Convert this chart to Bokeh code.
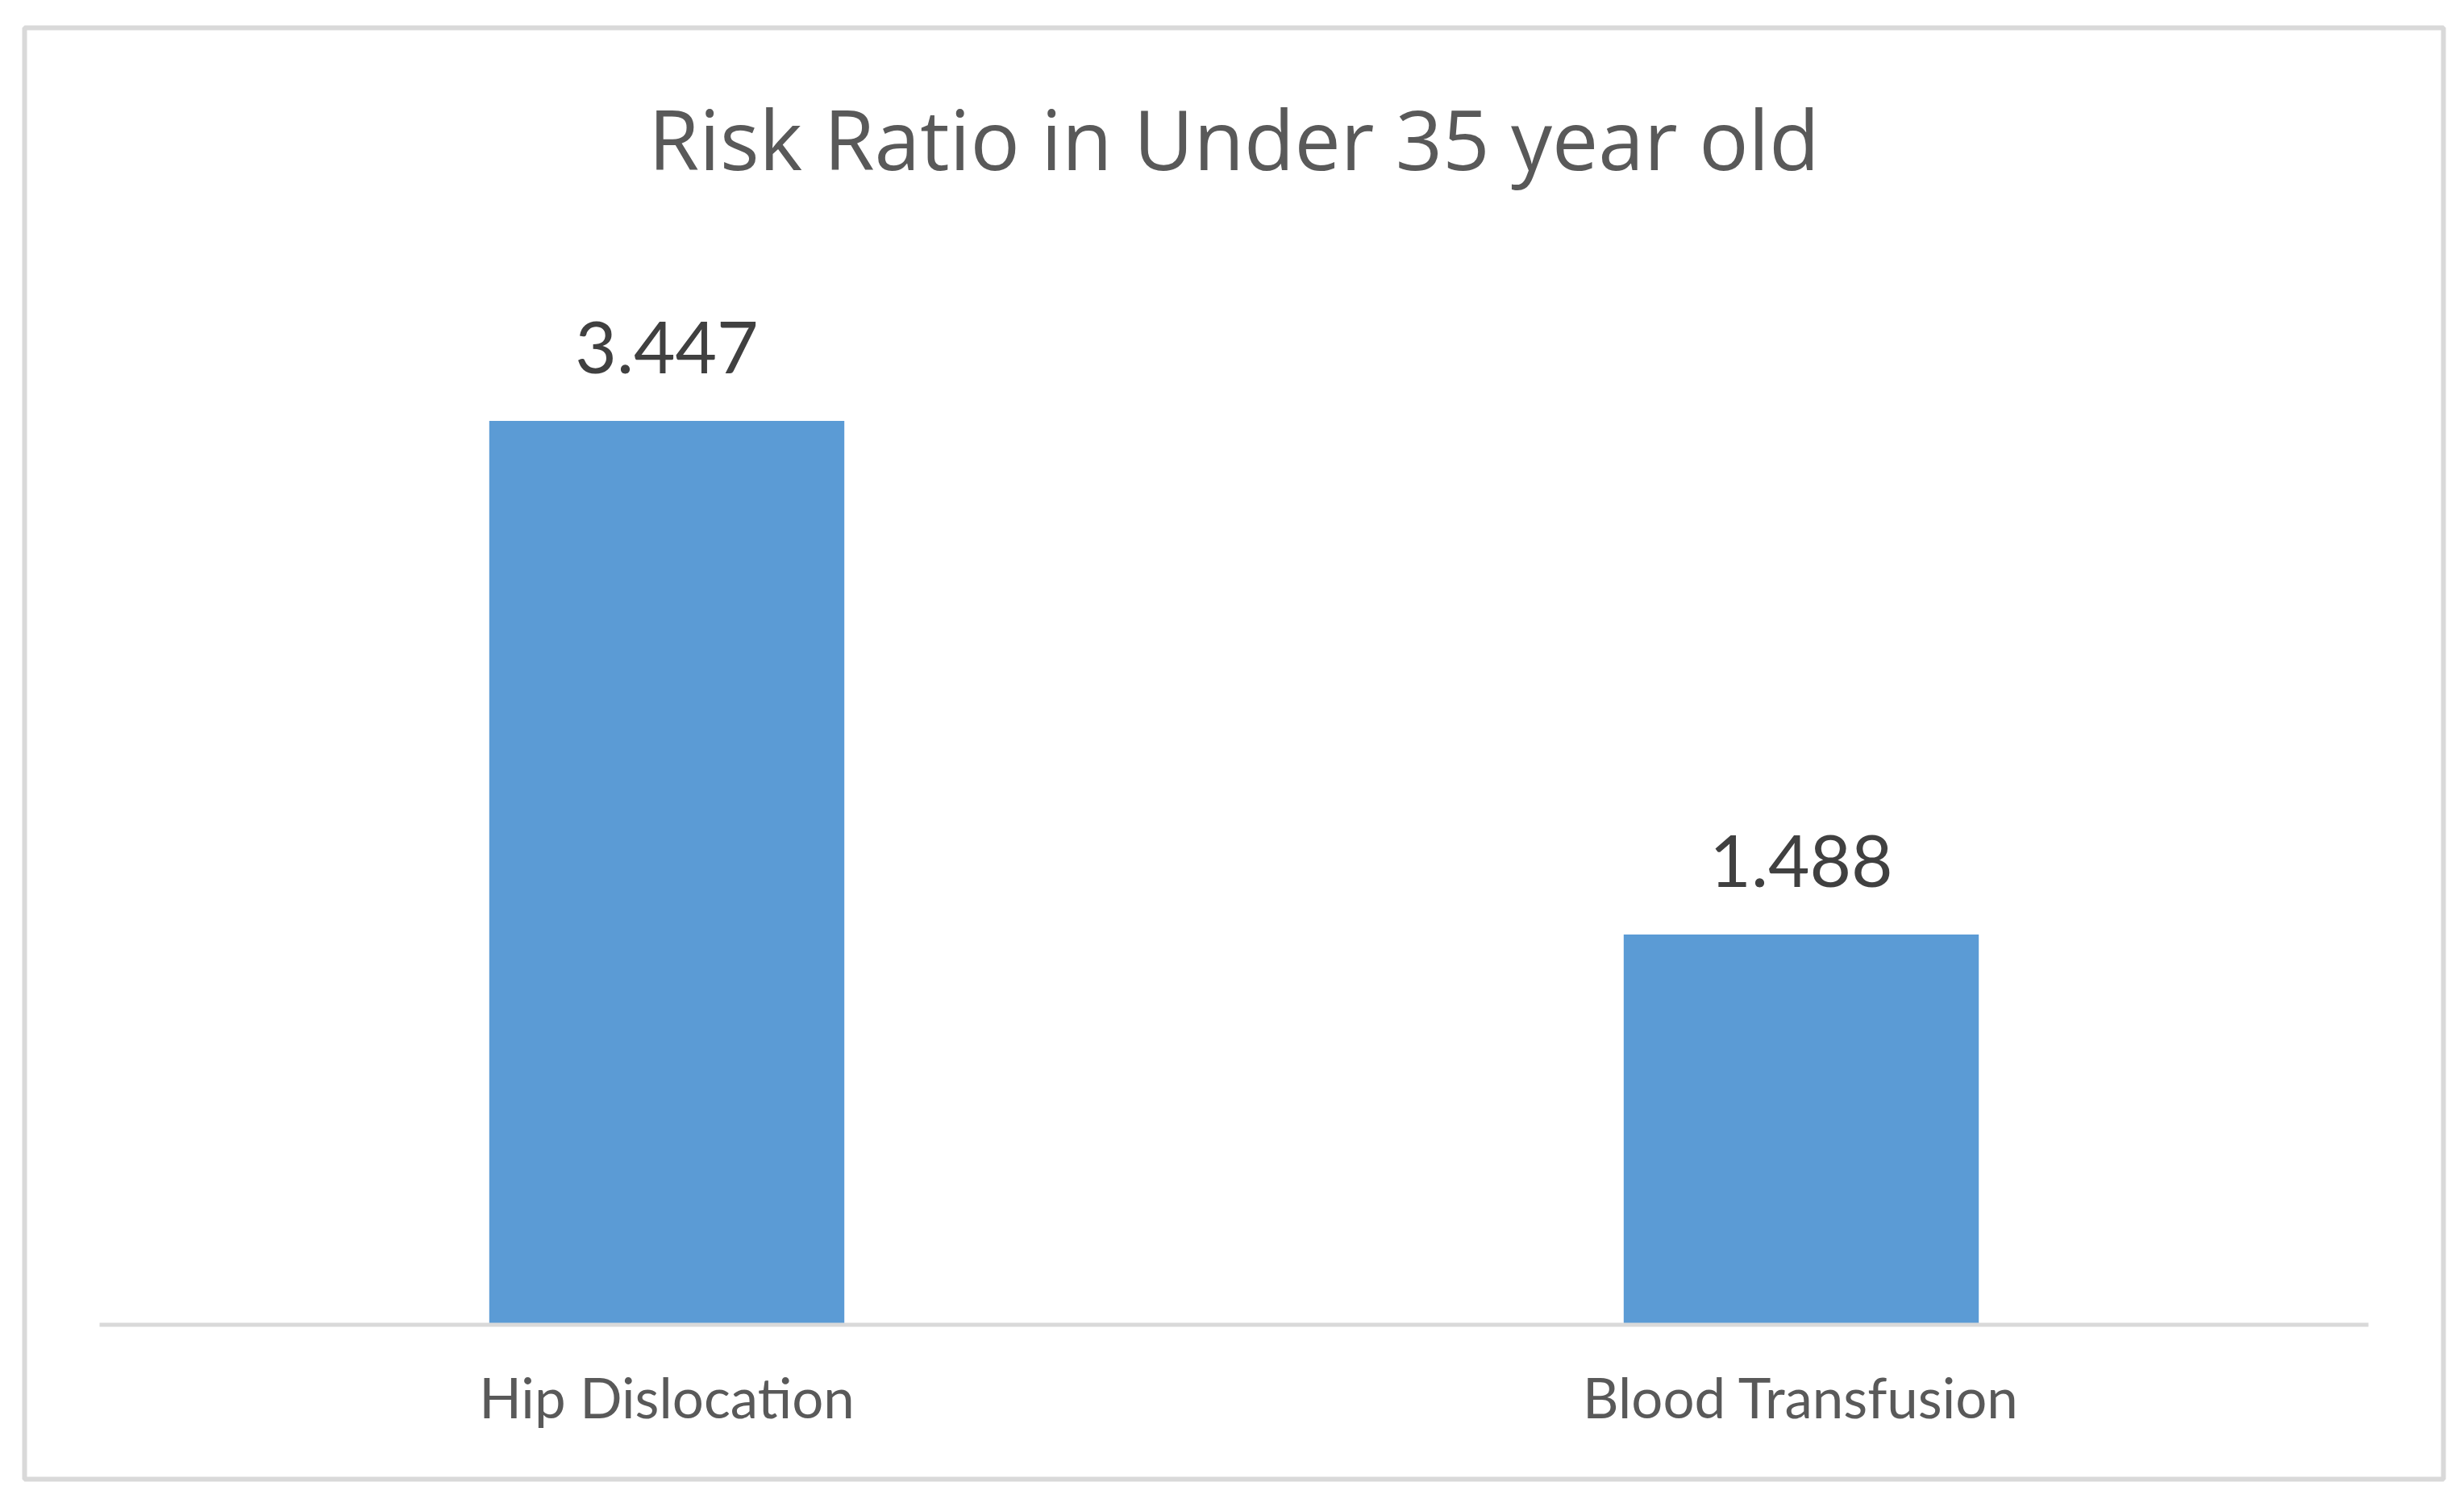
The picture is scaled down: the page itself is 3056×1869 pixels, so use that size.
from bokeh.plotting import figure
from bokeh.models import FactorRange, Range1d, Label
from bokeh.core.properties import value
from bokeh.embed import file_html
from bokeh.resources import INLINE

# ---- data ----
title_text = "Risk Ratio in Under 35 year old"
categories = ["Hip Dislocation", "Blood Transfusion"]
risk_ratio = [3.447, 1.488]
value_labels = ["{:.3f}".format(v) for v in risk_ratio]

# ---- styling / layout ----
FONT = "Lato"
TITLE_FONT = "Open Sans"
BAR_COLOR = "#5B9BD5"
GRID_GRAY = "#D9D9D9"

FRAME_W, FRAME_H = 3000, 1800
ML, MT, MR, MB = 30, 34, 14, 14

p = figure(
    width=FRAME_W + ML + MR,
    height=FRAME_H + MT + MB,
    x_range=FactorRange(*categories, range_padding=0.0661),
    y_range=Range1d(-0.589, 4.946),
    output_backend="svg",
    toolbar_location=None,
    min_border_left=ML, min_border_right=MR,
    min_border_top=MT, min_border_bottom=MB,
)
p.xaxis.visible = False
p.yaxis.visible = False
p.xgrid.visible = False
p.ygrid.visible = False
p.background_fill_color = "white"
p.border_fill_color = "white"
p.outline_line_color = GRID_GRAY
p.outline_line_width = 6

# bars
p.vbar(x=categories, top=risk_ratio, width=0.313, bottom=0,
       fill_color=BAR_COLOR, line_color=None)

# category axis line
p.segment(x0=[(categories[0], -0.5)], y0=[0], x1=[(categories[-1], 0.5)], y1=[0],
          line_color=GRID_GRAY, line_width=5)

# value labels
p.text(x=categories, y=risk_ratio, text=value_labels, y_offset=-91,
       text_align="center", text_baseline="alphabetic",
       text_font=value(FONT), text_font_size="89px", text_color="#404040")

# category labels
p.text(x=categories, y=[0] * len(categories), text=categories, y_offset=90,
       text_align="center", text_baseline="alphabetic",
       text_font=value(FONT), text_font_size="69px", text_color="#595959")

# title
p.add_layout(Label(x=FRAME_W / 2, y=1663, x_units="screen", y_units="screen",
                   text=title_text, text_align="center", text_baseline="alphabetic",
                   text_font=TITLE_FONT, text_font_size="102px", text_color="#595959"))

open("out.html", "w").write(file_html(p, INLINE))
